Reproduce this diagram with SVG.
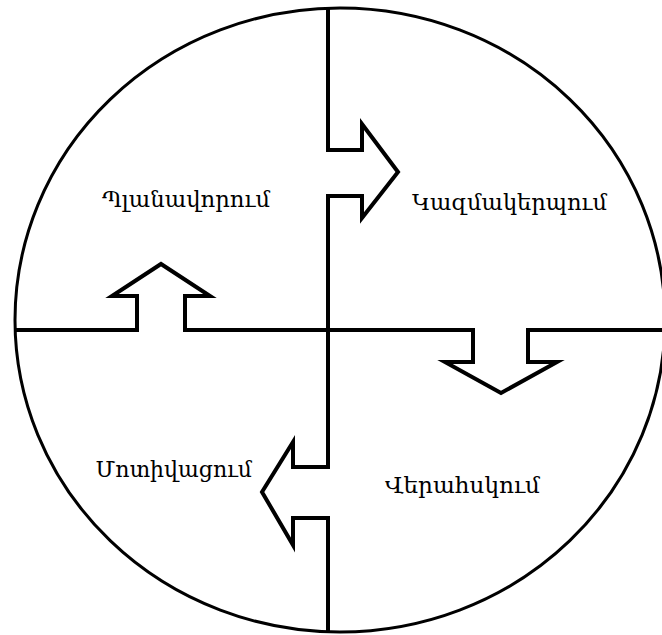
<svg xmlns="http://www.w3.org/2000/svg" width="662" height="635" viewBox="0 0 662 635">
<style>
.ln{fill:none;stroke:#000;stroke-width:4;stroke-linejoin:miter;stroke-miterlimit:10}
.rim{fill:none;stroke:#000;stroke-width:3}
.lbl{font-family:"DejaVu Serif","DejaVu Sans",serif;font-size:22px;fill:#000}
</style>
<rect width="662" height="635" fill="#fff"/>
<ellipse id="rim" class="rim" cx="340" cy="320" rx="325" ry="312"/>
<g id="connectors">
<path class="ln" d="M328,8 V150 H362 V124 L398,172 L362,218 V196 H328 V467 H293 V442 L262,492 L293,545 V518 H328 V632"/>
<path class="ln" d="M15,330 H137 V296 H112 L161,264 L210,296 H185 V330 H473 V362 H445 L501,393 L557,362 H528 V330 H662"/>
</g>
<g id="planning"><text class="lbl" x="102" y="207" textLength="168" lengthAdjust="spacingAndGlyphs">Պլանավորում</text></g>
<g id="organizing"><text class="lbl" x="412" y="210" textLength="195" lengthAdjust="spacingAndGlyphs">Կազմակերպում</text></g>
<g id="controlling"><text class="lbl" x="385" y="493" textLength="155" lengthAdjust="spacingAndGlyphs">Վերահսկում</text></g>
<g id="motivating"><text class="lbl" x="252" y="477" text-anchor="end">Մոտիվացում</text></g>
</svg>
